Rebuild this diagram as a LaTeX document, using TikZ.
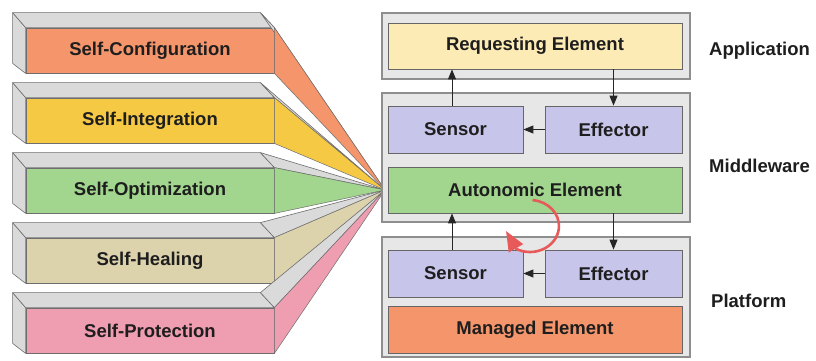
\documentclass[tikz,border=0pt]{standalone}
\usepackage{fontspec}
\setmainfont{Liberation Sans}
\usetikzlibrary{arrows.meta,calc}
\definecolor{conf}{HTML}{F4956B}
\definecolor{integ}{HTML}{F6C945}
\definecolor{optim}{HTML}{A2D68E}
\definecolor{heal}{HTML}{DCD3AD}
\definecolor{prot}{HTML}{EF9DB1}
\definecolor{reqc}{HTML}{FDEBB5}
\definecolor{sens}{HTML}{C7C5E9}
\definecolor{contfill}{HTML}{E7E7E7}
\definecolor{contedge}{HTML}{8E8E8E}
\definecolor{bevelfill}{HTML}{DADADA}
\definecolor{beveledge}{HTML}{6E6E6E}
\definecolor{boxedge}{HTML}{666666}
\definecolor{txt}{HTML}{1E1E1E}
\definecolor{redarc}{HTML}{E85A5A}
\begin{document}
\begin{tikzpicture}[x=1pt,y=-1pt,
  lbl/.style={font=\fontsize{18.5}{20}\selectfont\bfseries, text=txt},
  inbox/.style={draw=boxedge, line width=0.8pt, inner sep=0pt, lbl},
  front/.style={draw=beveledge, line width=0.8pt, inner sep=0pt, lbl,
    minimum width=248pt, minimum height=45pt},
  cont/.style={draw=contedge, fill=contfill, line width=1.2pt, inner sep=0pt},
  bevel/.style={fill=bevelfill, draw=beveledge, line width=0.6pt, line join=round},
  fan/.style={draw=beveledge, line width=0.5pt, line join=round},
  arr/.style={-{Triangle[length=10pt,width=8pt]}, line width=0.9pt, draw=black!85}]
\useasboundingbox (0,0) rectangle (816,360);
\fill[white] (0,0) rectangle (816,360);
\coordinate (apex) at (385,190);
% left bars
\foreach \i/\t/\c/\yf in {1/Self-Configuration/conf/28, 2/Self-Integration/integ/98,
  3/Self-Optimization/optim/168, 4/Self-Healing/heal/238, 5/Self-Protection/prot/308}{
  \node[front, fill=\c] (bar\i) at (150,\yf+22.5) {\t};
  \draw[bevel] ([shift={(-13,-15)}]bar\i.north west) -- (bar\i.north west)
     -- (bar\i.south west) -- ([shift={(-13,-10)}]bar\i.south west) -- cycle;
  \draw[bevel] ([shift={(-13,-15)}]bar\i.north west) -- ([shift={(-14,-15)}]bar\i.north east)
     -- (bar\i.north east) -- (bar\i.north west) -- cycle;
  \draw[bevel] ([shift={(-14,-15)}]bar\i.north east) -- (bar\i.north east) -- (apex) -- cycle;
  \draw[fan, fill=\c] (bar\i.north east) -- (bar\i.south east) -- (apex) -- cycle;
}
% containers
\node[cont, minimum width=308pt, minimum height=66pt] (app) at (536,46) {};
\node[cont, minimum width=308pt, minimum height=129pt] (mid) at (536,157.5) {};
\node[cont, minimum width=308pt, minimum height=120pt] (plat) at (536,297) {};
% inner boxes
\node[inbox, fill=reqc, minimum width=294pt, minimum height=46pt] (req) at (535,46) {Requesting Element};
\node[inbox, fill=sens, minimum width=135pt, minimum height=47pt] (s1) at (455.5,129.5) {Sensor};
\node[inbox, fill=sens, minimum width=137pt, minimum height=47pt] (e1) at (613.5,129.5) {Effector};
\node[inbox, fill=optim, minimum width=294pt, minimum height=46pt] (auto) at (535,190) {Autonomic Element};
\node[inbox, fill=sens, minimum width=135pt, minimum height=47pt] (s2) at (455.5,273.5) {Sensor};
\node[inbox, fill=sens, minimum width=137pt, minimum height=47pt] (e2) at (613.5,273.5) {Effector};
\node[inbox, fill=conf, minimum width=294pt, minimum height=47pt] (man) at (535,329.5) {Managed Element};
% layer labels
\node[lbl, anchor=base west, inner sep=0pt] (lapp) at (709,55) {Application};
\node[lbl, anchor=base west, inner sep=0pt] (lmid) at (709,172) {Middleware};
\node[lbl, anchor=base west, inner sep=0pt] (lplat) at (711,307) {Platform};
% connectors
\draw[arr] ([xshift=-3.5pt]s1.north) -- ([xshift=-3.5pt]s1.north |- req.south);
\draw[arr] (e1.north |- req.south) -- (e1.north);
\draw[arr] (e1.west) -- (s1.east);
\draw[arr] ([xshift=-3.5pt]s2.north) -- ([xshift=-3.5pt]s2.north |- auto.south);
\draw[arr] (e2.north |- auto.south) -- (e2.north);
\draw[arr] (e2.west) -- (s2.east);
% red cycle arrow
\draw[redarc, line width=2.6pt, -{Triangle[length=20pt,width=16pt]}]
  (532.5,200.1) arc[start angle=-85, end angle=118, x radius=29, y radius=26] -- (506,231);
\end{tikzpicture}
\end{document}
